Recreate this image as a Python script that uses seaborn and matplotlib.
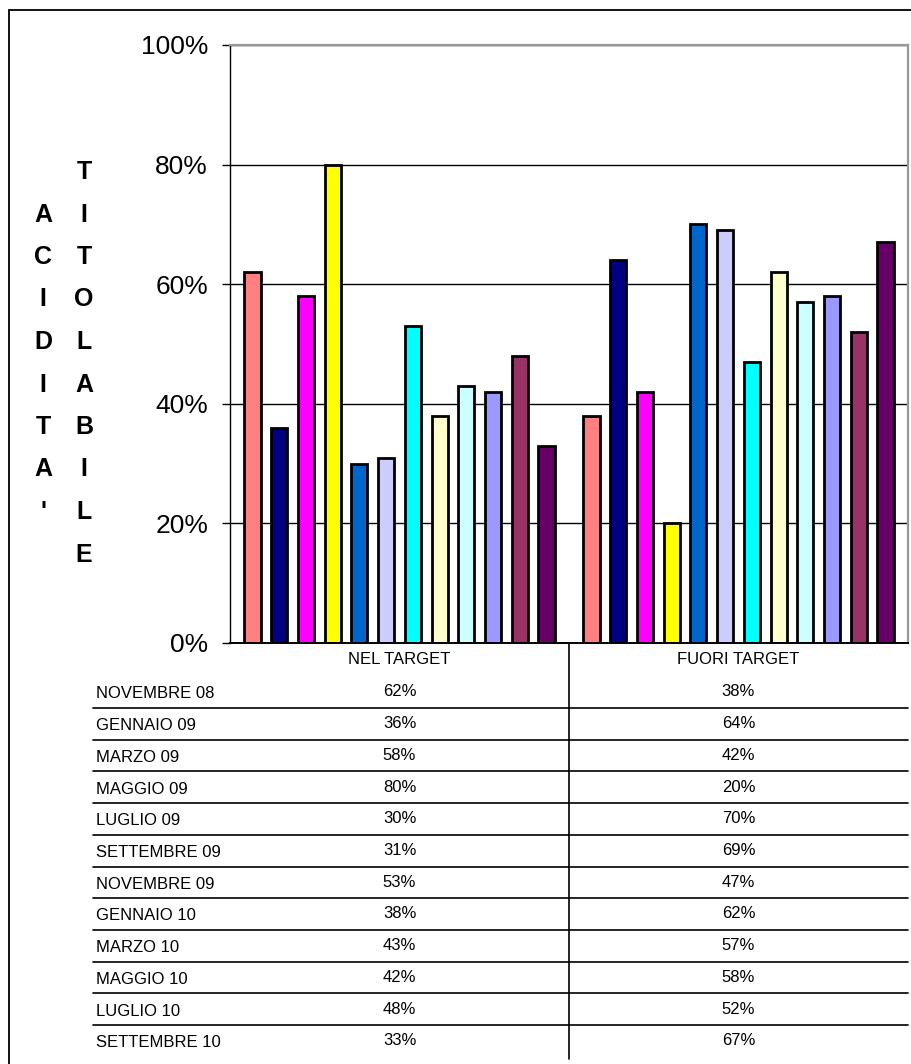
import matplotlib
matplotlib.use("Agg")
import matplotlib.pyplot as plt
import matplotlib.transforms as mtransforms
from matplotlib.lines import Line2D
import pandas as pd
import seaborn as sns

# ---- data -------------------------------------------------------------
months = ["NOVEMBRE 08", "GENNAIO 09", "MARZO 09", "MAGGIO 09", "LUGLIO 09",
          "SETTEMBRE 09", "NOVEMBRE 09", "GENNAIO 10", "MARZO 10", "MAGGIO 10",
          "LUGLIO 10", "SETTEMBRE 10"]
categories = ["NEL TARGET", "FUORI TARGET"]
nel_target = [62, 36, 58, 80, 30, 31, 53, 38, 43, 42, 48, 33]
fuori_target = [38, 64, 42, 20, 70, 69, 47, 62, 57, 58, 52, 67]
y_ticks = [0, 20, 40, 60, 80, 100]
y_tick_labels = ["0%", "20%", "40%", "60%", "80%", "100%"]
label_left = "ACIDITA'"
label_right = "TITOLABILE"

colors = ["#FF8080", "#000080", "#FF00FF", "#FFFF00", "#0066CC", "#CCCCFF",
          "#00FFFF", "#FFFFCC", "#CCFFFF", "#9999FF", "#993366", "#660066"]

df = pd.DataFrame({
    "categoria": [c for c in categories for _ in months],
    "mese": months * 2,
    "valore": nel_target + fuori_target,
})

# ---- figure -----------------------------------------------------------
sns.set_theme(style="white")
plt.rcParams["font.family"] = ["Liberation Sans", "DejaVu Sans"]

W, H = 911, 1064
fig = plt.figure(figsize=(W / 100, H / 100), dpi=100)
fig.patch.set_facecolor("white")


def fx(px):
    return px / W


def fy(py):
    return 1 - py / H


ax = fig.add_axes([fx(230), fy(643), fx(908) - fx(230), fy(45) - fy(643)])

sns.barplot(data=df, x="categoria", y="valore", hue="mese",
            order=categories, hue_order=months, palette=colors,
            saturation=1, width=0.946, gap=0.4, errorbar=None,
            edgecolor="black", linewidth=2.0, legend=False, ax=ax)

ax.set_xlim(-0.5, 1.5)
ax.set_ylim(0, 100)
ax.set_yticks(y_ticks)
ax.set_yticklabels(y_tick_labels)
ax.set_xticks([])
ax.set_xlabel("")
ax.set_ylabel("")
ax.tick_params(axis="y", direction="out", length=5.8, width=1, pad=10,
               labelsize=19, colors="black", left=True)
ax.set_axisbelow(True)
ax.yaxis.grid(True, color="black", linewidth=1)
ax.set_facecolor("white")

for side in ("top", "right"):
    ax.spines[side].set_color("#999999")
    ax.spines[side].set_linewidth(1.6)
ax.spines["left"].set_color("black")
ax.spines["left"].set_linewidth(1.0)
ax.spines["bottom"].set_color("black")
ax.spines["bottom"].set_linewidth(1.4)

# ---- vertical axis title, one letter per line ---------------------------
step = 42.5
for i, ch in enumerate(label_right):
    fig.text(fx(84), fy(172 + i * step), ch, ha="center", va="center",
             fontsize=18, fontweight="bold", color="black")
for i, ch in enumerate(label_left):
    fig.text(fx(43), fy(172 + (i + 1) * step), ch, ha="center", va="center",
             fontsize=18, fontweight="bold", color="black")

# ---- data table under the plot -----------------------------------------
blend = mtransforms.blended_transform_factory(ax.transData, fig.transFigure)
for ci, cat in enumerate(categories):
    fig.text(ci, fy(659), cat, transform=blend, ha="center", va="center",
             fontsize=12, color="black")

row0, row_h = 693, 31.7
for ri, month in enumerate(months):
    yc = row0 + ri * row_h
    fig.text(fx(96), fy(yc + 1), month, ha="left", va="center",
             fontsize=12, color="black")
    for ci, vals in enumerate((nel_target, fuori_target)):
        fig.text(ci, fy(yc - 1), f"{vals[ri]}%", transform=blend,
                 ha="center", va="center", fontsize=12, color="black")
    if ri < len(months) - 1:
        yl = row0 + 15 + ri * row_h
        fig.add_artist(Line2D([fx(93), fx(908)], [fy(yl), fy(yl)],
                              color="black", linewidth=1.2,
                              transform=fig.transFigure))

fig.add_artist(Line2D([0.5, 0.5], [fy(643), fy(1059)], color="black",
                      linewidth=1.2, transform=blend))

# ---- chart frame (top and left edges visible) ---------------------------
fig.add_artist(Line2D([fx(9), fx(911)], [fy(10), fy(10)], color="black",
                      linewidth=1.3, transform=fig.transFigure))
fig.add_artist(Line2D([fx(9), fx(9)], [fy(10), fy(1064)], color="black",
                      linewidth=1.3, transform=fig.transFigure))

fig.savefig("out.png", dpi=100, facecolor="white")
